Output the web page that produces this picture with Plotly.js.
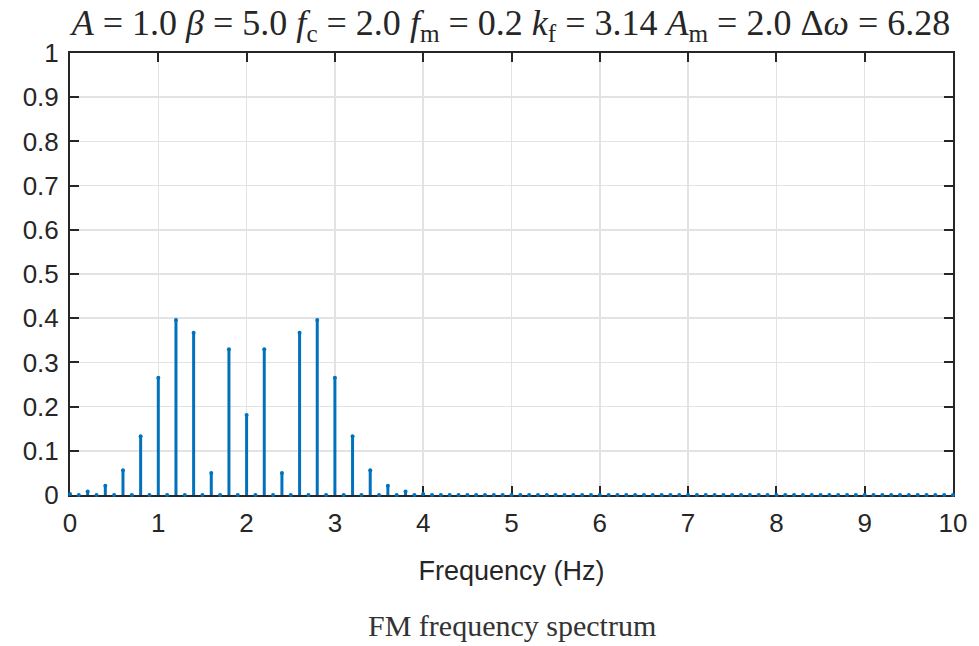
<!DOCTYPE html>
<html>
<head>
<meta charset="utf-8">
<script src="https://cdn.plot.ly/plotly-3.0.1.min.js"></script>
<style>html,body{margin:0;padding:0;background:#fff;}#chart{width:979px;height:646px;}</style>
</head>
<body>
<div id="chart"></div>
<script>
const frequency = [0.0,0.1,0.2,0.3,0.4,0.5,0.6,0.7,0.8,0.9,1.0,1.1,1.2,1.3,1.4,1.5,1.6,1.7,1.8,1.9,
  2.0,2.1,2.2,2.3,2.4,2.5,2.6,2.7,2.8,2.9,3.0,3.1,3.2,3.3,3.4,3.5,3.6,3.7,3.8,3.9,
  4.0,4.1,4.2,4.3,4.4,4.5,4.6,4.7,4.8,4.9,5.0,5.1,5.2,5.3,5.4,5.5,5.6,5.7,5.8,5.9,
  6.0,6.1,6.2,6.3,6.4,6.5,6.6,6.7,6.8,6.9,7.0,7.1,7.2,7.3,7.4,7.5,7.6,7.7,7.8,7.9,
  8.0,8.1,8.2,8.3,8.4,8.5,8.6,8.7,8.8,8.9,9.0,9.1,9.2,9.3,9.4,9.5,9.6,9.7,9.8,9.9,10.0];
const amplitude = [0.002,0,0.008,0,0.021,0,0.056,0,0.133,0,0.265,0,0.396,0,0.367,0,0.050,0,0.330,0,
  0.181,0,0.330,0,0.050,0,0.367,0,0.396,0,0.265,0,0.133,0,0.056,0,0.021,0,0.008,0,
  0.002,0,0,0,0,0,0,0,0,0,0,0,0,0,0,0,0,0,0,0,
  0,0,0,0,0,0,0,0,0,0,0,0,0,0,0,0,0,0,0,0,
  0,0,0,0,0,0,0,0,0,0,0,0,0,0,0,0,0,0,0,0,0];
const xTicks = [0,1,2,3,4,5,6,7,8,9,10];
const yTicks = [0,0.1,0.2,0.3,0.4,0.5,0.6,0.7,0.8,0.9,1];
const yTickLabels = ['0','0.1','0.2','0.3','0.4','0.5','0.6','0.7','0.8','0.9','1'];
const titleText = '<i>A</i> = 1.0 <i>β</i> = 5.0 <i>f</i><sub>c</sub> = 2.0 <i>f</i><sub>m</sub> = 0.2 <i>k</i><sub>f</sub> = 3.14 <i>A</i><sub>m</sub> = 2.0 Δ<i>ω</i> = 6.28';
const xLabel = 'Frequency (Hz)';
const caption = 'FM frequency spectrum';

const blue = '#0072BD';
const axisColor = '#262626';

const trace = {
  x: frequency, y: amplitude, type: 'scatter', mode: 'markers',
  marker: {color: blue, size: 4},
  error_y: {type: 'percent', symmetric: false, value: 0, valueminus: 100,
            thickness: 3, width: 0, color: blue},
  hoverinfo: 'x+y', showlegend: false, cliponaxis: false
};

const axisCommon = {
  showline: true, linecolor: axisColor, linewidth: 2, mirror: 'ticks', layer: 'below traces',
  ticks: 'inside', ticklen: 9, tickwidth: 2, tickcolor: axisColor,
  showgrid: true, gridcolor: '#e3e3e3', gridwidth: 1.5, zeroline: false,
  tickfont: {family: 'Liberation Sans, Arial, sans-serif', size: 26, color: axisColor}
};

const layout = {
  width: 979, height: 646,
  margin: {l: 70, r: 26, t: 53, b: 151},
  paper_bgcolor: '#fff', plot_bgcolor: '#fff',
  title: {text: titleText, x: 0.522, xanchor: 'center', y: 0.966, yanchor: 'middle',
          font: {family: 'Liberation Serif, Times New Roman, serif', size: 36, color: axisColor}},
  xaxis: Object.assign({}, axisCommon, {
    range: [0, 10], tickmode: 'array', tickvals: xTicks, ticklabelstandoff: 4,
    title: {text: xLabel, standoff: 24, font: {family: 'Liberation Sans, Arial, sans-serif', size: 27, color: axisColor}}
  }),
  yaxis: Object.assign({}, axisCommon, {
    range: [0, 1], tickmode: 'array', tickvals: yTicks, ticktext: yTickLabels, ticklabelstandoff: 4
  }),
  annotations: [{
    text: caption, xref: 'paper', yref: 'paper', x: 0.5, y: -0.296,
    xanchor: 'center', yanchor: 'middle', showarrow: false,
    font: {family: 'Liberation Serif, Times New Roman, serif', size: 30, color: '#333'}
  }]
};

Plotly.newPlot('chart', [trace], layout, {displayModeBar: false, staticPlot: true});
</script>
</body>
</html>
